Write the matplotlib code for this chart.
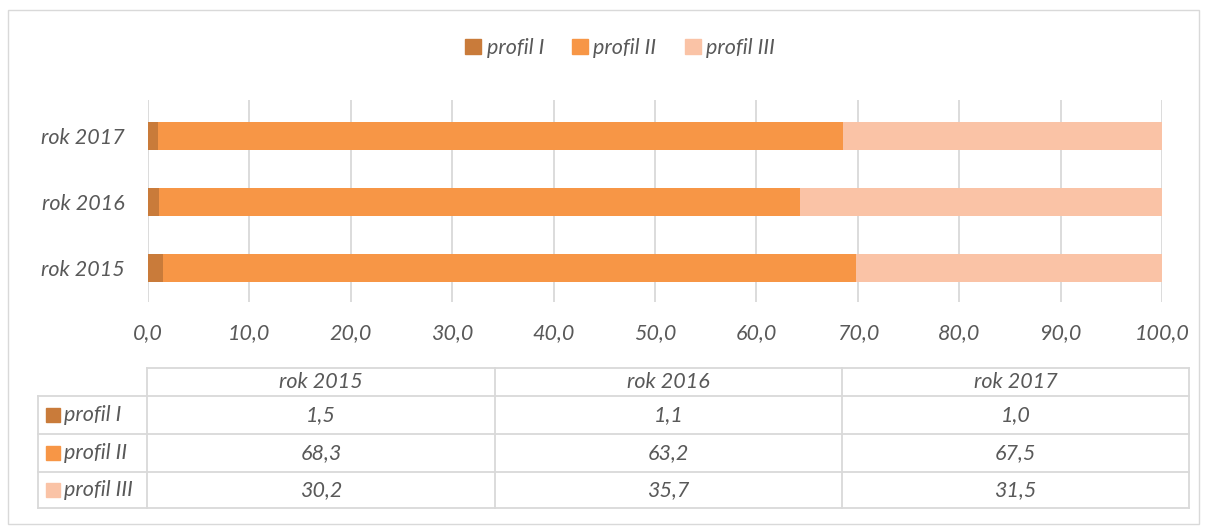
import numpy as np
import matplotlib.pyplot as plt
from matplotlib.patches import Rectangle, Patch

# data (percent shares per year)
years = ["rok 2015", "rok 2016", "rok 2017"]
profiles = ["profil I", "profil II", "profil III"]
profil_1 = [1.5, 1.1, 1.0]
profil_2 = [68.3, 63.2, 67.5]
profil_3 = [30.2, 35.7, 31.5]
colors = ["#C97B3A", "#F79646", "#FAC3A6"]
series = [profil_1, profil_2, profil_3]

txt = "#595959"
grid = "#D9D9D9"
W, H = 1209, 532
font = "Lato"
fs = 15.5

fig = plt.figure(figsize=(W / 100, H / 100), dpi=100)

# overlay axes in pixel coordinates for frame and table
bg = fig.add_axes([0, 0, 1, 1])
bg.set_xlim(0, W)
bg.set_ylim(H, 0)
bg.axis("off")
bg.add_patch(Rectangle((8, 10), 1191, 514, fill=False, ec=grid, lw=1))

# bar chart
ax = fig.add_axes([148 / W, 1 - 302 / H, 1014 / W, 202 / H])
ax.set_zorder(2)
ax.patch.set_alpha(0)
y = np.arange(len(years))
left = np.zeros(len(years))
for vals, c, name in zip(series, colors, profiles):
    ax.barh(y, vals, left=left, height=0.41, color=c, label=name, zorder=3)
    left += np.array(vals)

ax.set_xlim(0, 100)
ax.set_ylim(-0.515, 2.545)
xt = np.arange(0, 101, 10)
ax.set_xticks(xt)
ax.set_xticklabels([f"{v:.1f}".replace(".", ",") for v in xt])
ax.set_yticks(y)
ax.set_yticklabels(years)
for lab in ax.get_xticklabels() + ax.get_yticklabels():
    lab.set_fontstyle("italic")
    lab.set_fontfamily(font)
    lab.set_fontsize(fs)
    lab.set_color(txt)
ax.tick_params(axis="x", length=0, pad=15)
ax.tick_params(axis="y", length=0, pad=17)
ax.xaxis.grid(True, color=grid, lw=1.3, zorder=0)
for s in ax.spines.values():
    s.set_visible(False)

# legend on top
handles = [Patch(color=c) for c in colors]
fig.legend(handles, profiles, loc="center", bbox_to_anchor=(620 / W, 1 - 48 / H),
           ncol=3, frameon=False, handlelength=0.75, handleheight=0.75,
           handletextpad=0.25, columnspacing=1.3,
           prop={"family": font, "style": "italic", "size": fs}, labelcolor=txt)

# data table below
cols = [38, 147, 495, 842, 1189]
rows = [368, 396, 434, 472, 508]
lw = 1.3
# horizontal lines
bg.plot([cols[1], cols[-1]], [rows[0], rows[0]], color=grid, lw=lw)
for r in rows[1:]:
    bg.plot([cols[0], cols[-1]], [r, r], color=grid, lw=lw)
# vertical lines
bg.plot([cols[0], cols[0]], [rows[1], rows[-1]], color=grid, lw=lw)
for c in cols[1:]:
    bg.plot([c, c], [rows[0], rows[-1]], color=grid, lw=lw)

tkw = dict(color=txt, fontstyle="italic", fontfamily=font, fontsize=fs, va="center")
for j, yr in enumerate(years):
    cx = (cols[j + 1] + cols[j + 2]) / 2
    bg.text(cx, (rows[0] + rows[1]) / 2, yr, ha="center", **tkw)
for i, (name, vals, c) in enumerate(zip(profiles, series, colors)):
    cy = (rows[i + 1] + rows[i + 2]) / 2
    bg.add_patch(Rectangle((46, cy - 7), 14, 14, color=c))
    bg.text(64, cy, name, ha="left", **tkw)
    for j, v in enumerate(vals):
        cx = (cols[j + 1] + cols[j + 2]) / 2
        bg.text(cx, cy, f"{v:.1f}".replace(".", ","), ha="center", **tkw)

fig.savefig("out.png", dpi=100)
